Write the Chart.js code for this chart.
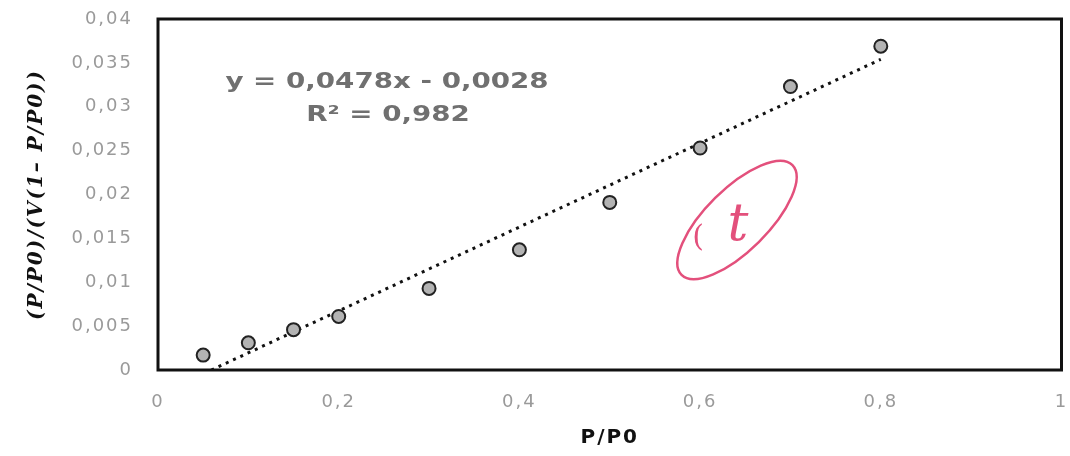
<!DOCTYPE html>
<html>
<head>
<meta charset="utf-8">
<script src="https://cdn.jsdelivr.net/npm/chart.js@4"></script>
<style>
  html, body { margin: 0; padding: 0; background: #fff; }
  #wrap { width: 1070px; height: 456px; }
</style>
</head>
<body>
<div id="wrap"><canvas id="c" width="1070" height="456"></canvas></div>
<script>
// ---- data ----
const pX = [0.05, 0.1, 0.15, 0.2, 0.3, 0.4, 0.5, 0.6, 0.7, 0.8];
const pY = [0.0017, 0.0031, 0.0046, 0.0061, 0.0093, 0.0137, 0.0191, 0.0253, 0.0323, 0.0369];
const trendX = [0.059, 0.8];
const trendY = [0.0, 0.0354];
const equationText = 'y = 0,0478x - 0,0028';
const r2Text = 'R\u00B2 = 0,982';
const xTitle = 'P/P0';
const yTitle = '(P/P0)/(V(1\u2013 P/P0))';
const noteText = 't';

const fmt = v => String(Math.round(v * 1000) / 1000).replace('.', ',');

const spacingPlugin = {
  id: 'spacing',
  beforeLayout(chart) { chart.ctx.letterSpacing = '2px'; },
  beforeDraw(chart) { chart.ctx.letterSpacing = '2px'; }
};

const framePlugin = {
  id: 'frame',
  afterDraw(chart) {
    const {ctx, chartArea: a} = chart;
    ctx.save();
    ctx.letterSpacing = '0px';
    ctx.strokeStyle = '#111';
    ctx.lineWidth = 3;
    ctx.strokeRect(a.left, a.top, a.right - a.left, a.bottom - a.top);

    // equation text
    ctx.fillStyle = '#707070';
    ctx.font = 'bold 21px "DejaVu Sans"';
    ctx.textAlign = 'center';
    ctx.textBaseline = 'middle';
    ctx.save(); ctx.translate(387, 83); ctx.scale(1.32, 1); ctx.fillText(equationText, 0, 0); ctx.restore();
    ctx.save(); ctx.translate(388, 116); ctx.scale(1.32, 1); ctx.fillText(r2Text, 0, 0); ctx.restore();

    // hand-written pink note
    ctx.strokeStyle = '#e3507c';
    ctx.fillStyle = '#e3507c';
    ctx.lineWidth = 2.5;
    ctx.beginPath();
    ctx.ellipse(737, 220, 78, 31, -0.78, 0, Math.PI * 2);
    ctx.stroke();
    ctx.font = 'italic 52px "DejaVu Serif"';
    ctx.fillText(noteText, 738, 226);
    ctx.font = '30px "DejaVu Serif"';
    ctx.fillText('(', 698, 238);
    ctx.restore();
  }
};

new Chart(document.getElementById('c'), {
  type: 'scatter',
  data: {
    datasets: [
      {
        label: 'trend',
        type: 'line',
        data: trendX.map((x, i) => ({x, y: trendY[i]})),
        showLine: true,
        borderColor: '#111',
        borderWidth: 3,
        borderDash: [3, 5],
        pointRadius: 0,
        fill: false,
        order: 2
      },
      {
        label: 'points',
        data: pX.map((x, i) => ({x, y: pY[i]})),
        backgroundColor: '#b3b3b3',
        borderColor: '#222',
        borderWidth: 2,
        pointRadius: 6.5,
        order: 1
      }
    ]
  },
  options: {
    responsive: false,
    animation: false,
    devicePixelRatio: 1,
    layout: { padding: { top: 19, right: -6, left: 0, bottom: 0 } },
    plugins: { legend: { display: false }, tooltip: { enabled: false } },
    scales: {
      x: {
        type: 'linear', min: 0, max: 1,
        grid: { display: false, drawTicks: false },
        border: { display: false },
        ticks: { stepSize: 0.2, padding: 22, color: '#9a9a9a',
                 font: { family: 'DejaVu Sans', size: 18 }, callback: v => fmt(v) },
        title: { display: true, text: xTitle, color: '#111',
                 font: { family: 'DejaVu Sans', size: 20, weight: 'bold' },
                 padding: { top: 0, bottom: 6 } },
        afterFit: s => { s.height = 86; s.paddingLeft = 0; s.paddingRight = 0; }
      },
      y: {
        type: 'linear', min: 0, max: 0.04,
        grid: { display: false, drawTicks: false },
        border: { display: false },
        ticks: { stepSize: 0.005, padding: 25, color: '#9a9a9a',
                 font: { family: 'DejaVu Sans', size: 18 }, callback: v => fmt(v) },
        title: { display: true, text: yTitle, color: '#111',
                 font: { family: 'DejaVu Serif', size: 20, style: 'italic', weight: 'bold' },
                 padding: { top: 25, bottom: 0 } },
        afterFit: s => { s.width = 158; s.paddingTop = 0; s.paddingBottom = 0; }
      }
    }
  },
  plugins: [spacingPlugin, framePlugin]
});
</script>
</body>
</html>
